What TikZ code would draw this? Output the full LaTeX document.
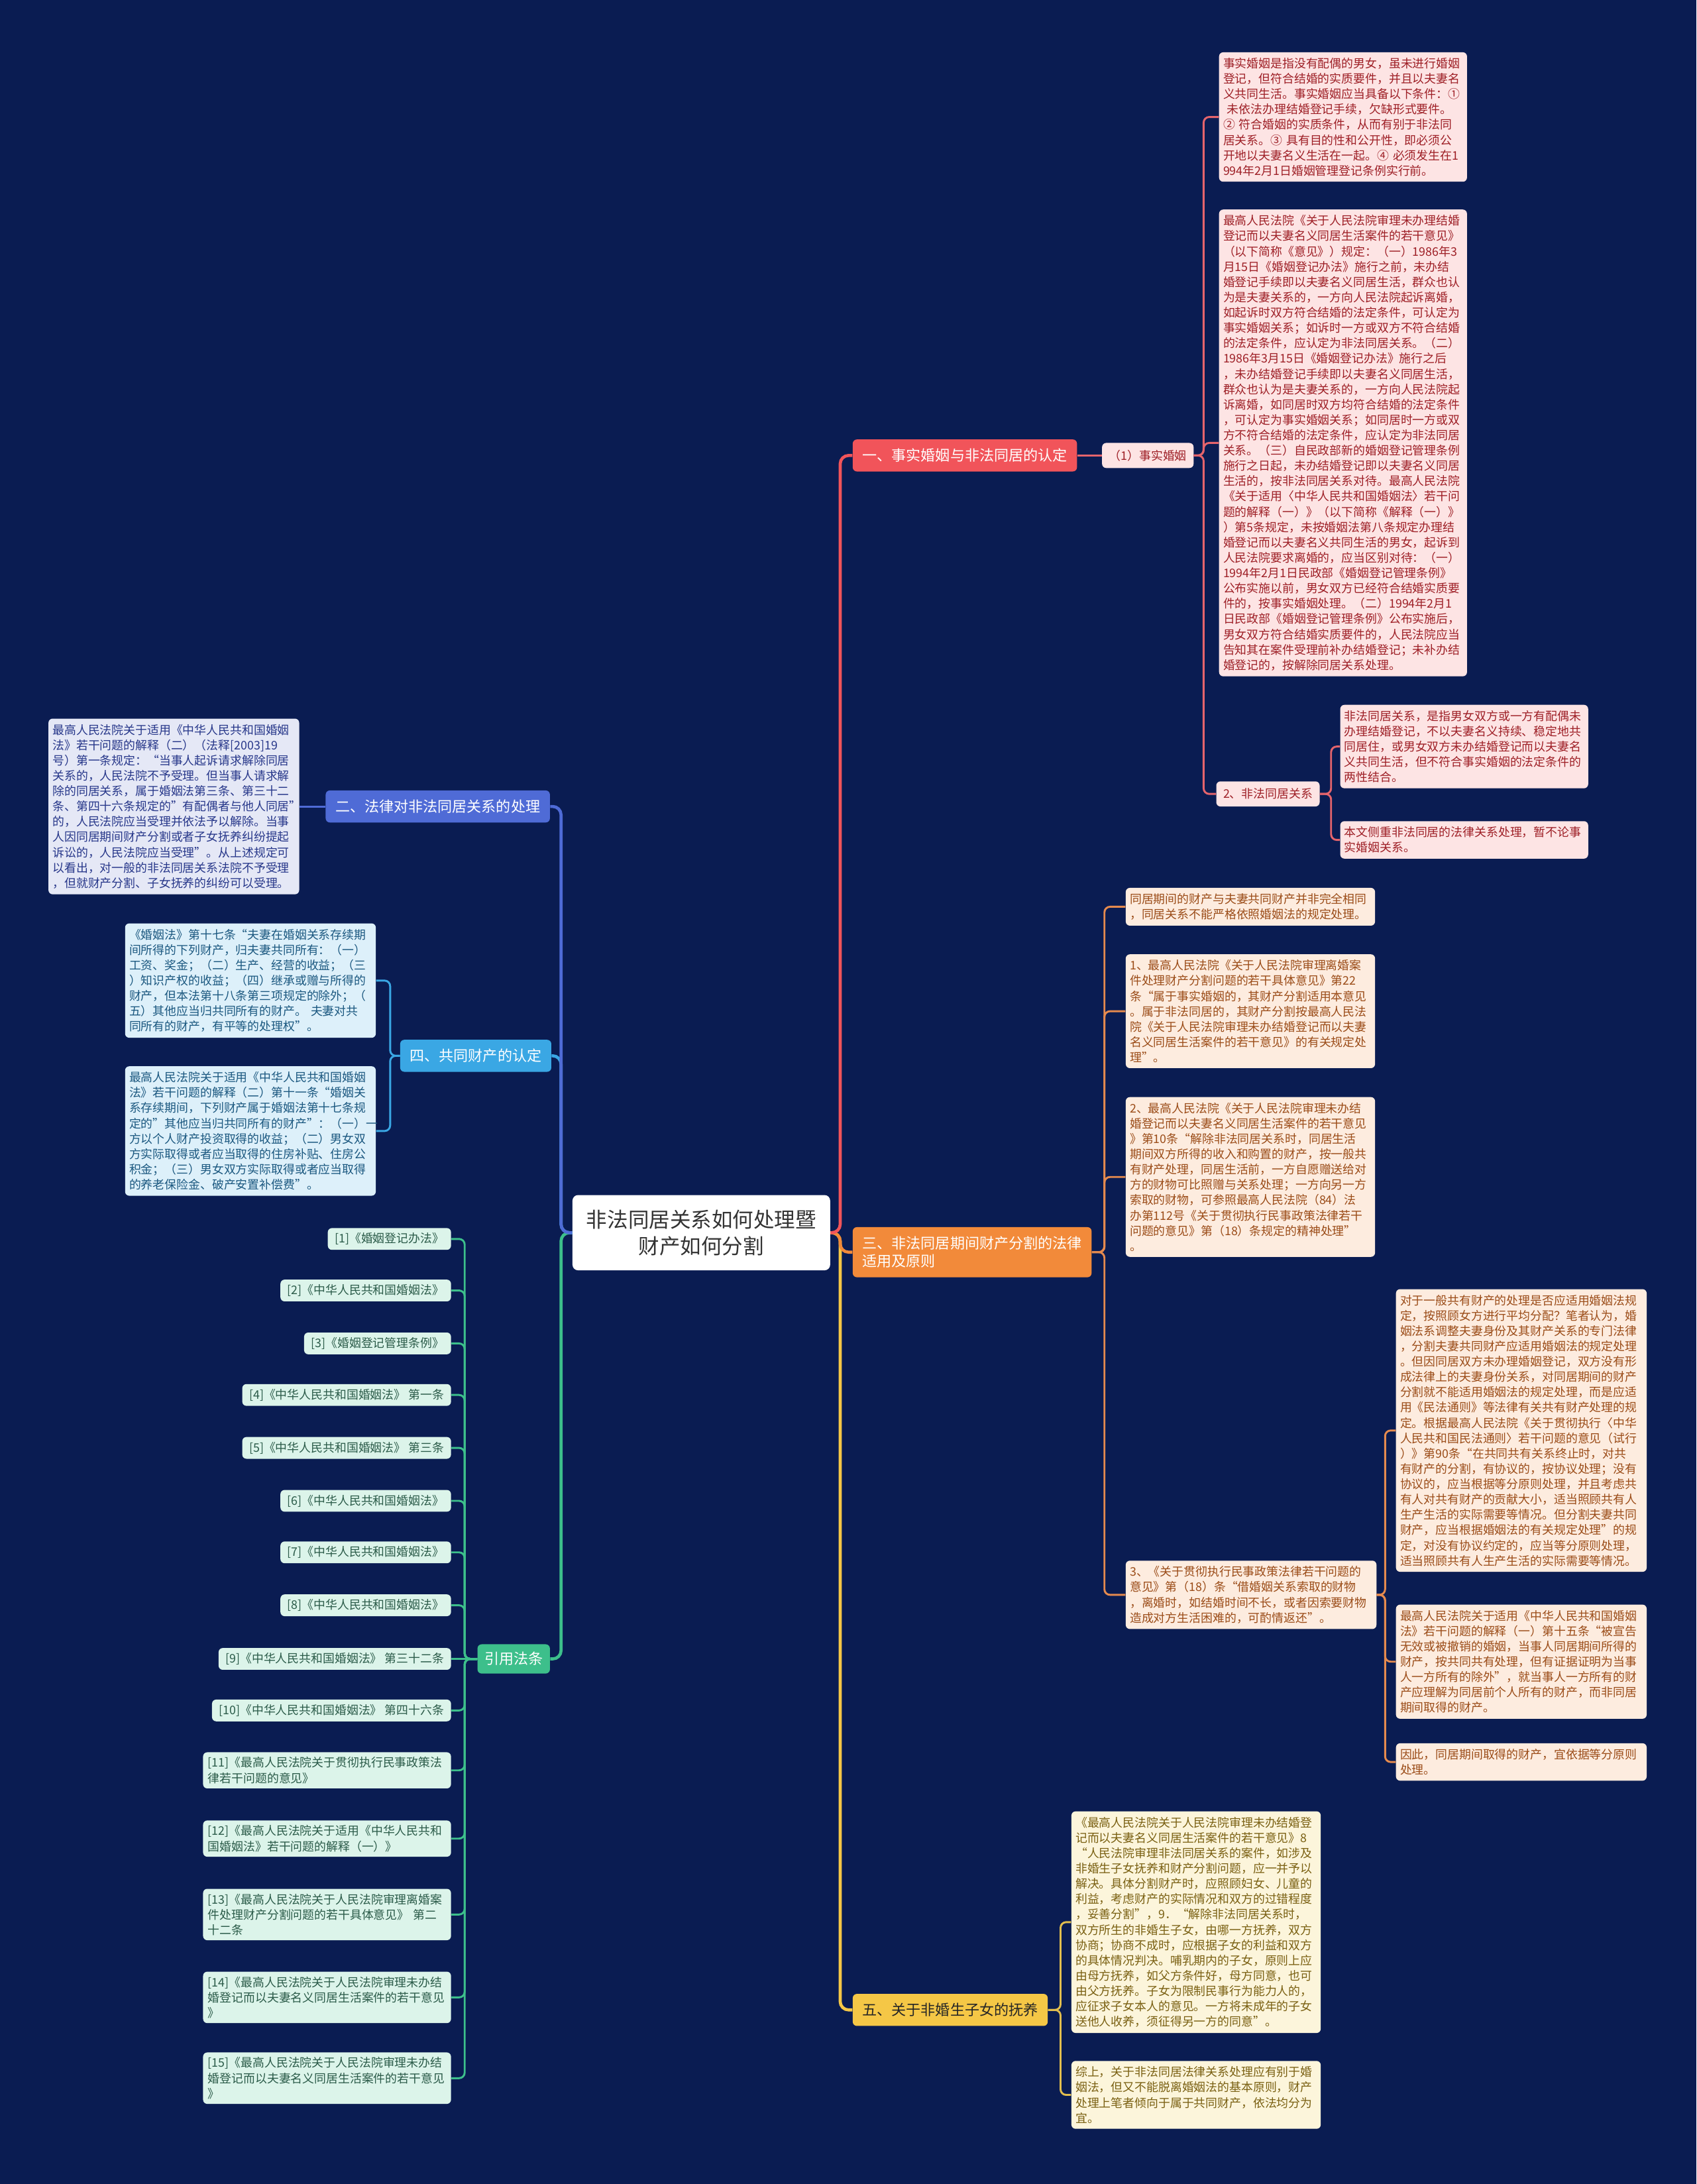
\documentclass[tikz,border=0pt]{standalone}
\usepackage{fontspec}
\setmainfont{Noto Sans CJK SC}
\definecolor{bgnavy}{HTML}{0A1C52}
\definecolor{redhead}{HTML}{F1545A}
\definecolor{redline}{HTML}{E5646C}
\definecolor{pinkfill}{HTML}{FDE4E4}
\definecolor{redtext}{HTML}{9E1F26}
\definecolor{orghead}{HTML}{F28A3A}
\definecolor{orgline}{HTML}{E58A4E}
\definecolor{peachfill}{HTML}{FDECDF}
\definecolor{orgtext}{HTML}{9B4C18}
\definecolor{ylwhead}{HTML}{F5C746}
\definecolor{ylwline}{HTML}{E2BE4E}
\definecolor{creamfill}{HTML}{FCF5DB}
\definecolor{ylwtext}{HTML}{7A6012}
\definecolor{bluhead}{HTML}{4F6BD6}
\definecolor{lavfill}{HTML}{E5E8F6}
\definecolor{blutext}{HTML}{27378A}
\definecolor{cyahead}{HTML}{3AA7E4}
\definecolor{cyafill}{HTML}{DDF0FA}
\definecolor{cyatext}{HTML}{1B5880}
\definecolor{grnhead}{HTML}{3DBF8B}
\definecolor{mintfill}{HTML}{DCF4EA}
\definecolor{grntext}{HTML}{2B5B49}
\begin{document}
\begin{tikzpicture}[x=1pt,y=-1pt,
  blk/.style={rounded corners=3pt,inner xsep=3pt,inner ysep=4pt,align=left,
    font=\fontsize{8.5}{11}\selectfont},
  head/.style={rounded corners=3pt,inner xsep=7pt,inner ysep=3pt,minimum height=23pt,
    text=white,font=\fontsize{10.5}{13}\selectfont},
  sub/.style={rounded corners=3pt,inner xsep=5pt,inner ysep=3pt,minimum height=18pt,
    font=\fontsize{8.5}{11}\selectfont},
  redblk/.style={blk,anchor=west,fill=pinkfill,text=redtext},
  orgblk/.style={blk,anchor=west,fill=peachfill,text=orgtext},
  ylwblk/.style={blk,anchor=west,fill=creamfill,text=ylwtext},
  blublk/.style={blk,anchor=east,fill=lavfill,text=blutext,text width=174pt},
  cyablk/.style={blk,anchor=east,fill=cyafill,text=cyatext,text width=174pt},
  refitem/.style={blk,anchor=east,fill=mintfill,text=grntext,inner xsep=5pt,inner ysep=3.5pt},
  trunk/.style={rounded corners=6pt,line width=2.2pt},
  conn/.style={rounded corners=4pt,line width=1.4pt}]
  \fill[bgnavy] (0,0) rectangle (1218,1568);

  % centre
  \node[fill=white,rounded corners=4pt,minimum width=185pt,minimum height=54pt,align=center,
    text=black!80,font=\fontsize{15}{19}\selectfont] (ctr) at (503.5,885)
    {非法同居关系如何处理暨\\财产如何分割};

  % right side
  \node[head,anchor=west,fill=redhead] (b1) at (612,327) {一、事实婚姻与非法同居的认定};
  \node[sub,anchor=west,fill=pinkfill,text=redtext] (s1) at (791,327) {（1）事实婚姻};
  \node[redblk,text width=172pt] (tA) at (875,84) {事实婚姻是指没有配偶的男女，虽未进行婚姻\\登记，但符合结婚的实质要件，并且以夫妻名\\义共同生活。事实婚姻应当具备以下条件：①\\\ 未依法办理结婚登记手续，欠缺形式要件。\\② 符合婚姻的实质条件，从而有别于非法同\\居关系。③ 具有目的性和公开性，即必须公\\开地以夫妻名义生活在一起。④ 必须发生在1\\994年2月1日婚姻管理登记条例实行前。};
  \node[redblk,text width=172pt] (tB) at (875,318) {最高人民法院《关于人民法院审理未办理结婚\\登记而以夫妻名义同居生活案件的若干意见》\\（以下简称《意见》）规定：（一）1986年3\\月15日《婚姻登记办法》施行之前，未办结\\婚登记手续即以夫妻名义同居生活，群众也认\\为是夫妻关系的，一方向人民法院起诉离婚，\\如起诉时双方符合结婚的法定条件，可认定为\\事实婚姻关系；如诉时一方或双方不符合结婚\\的法定条件，应认定为非法同居关系。（二）\\1986年3月15日《婚姻登记办法》施行之后\\，未办结婚登记手续即以夫妻名义同居生活，\\群众也认为是夫妻关系的，一方向人民法院起\\诉离婚，如同居时双方均符合结婚的法定条件\\，可认定为事实婚姻关系；如同居时一方或双\\方不符合结婚的法定条件，应认定为非法同居\\关系。（三）自民政部新的婚姻登记管理条例\\施行之日起，未办结婚登记即以夫妻名义同居\\生活的，按非法同居关系对待。最高人民法院\\《关于适用〈中华人民共和国婚姻法〉若干问\\题的解释（一）》（以下简称《解释（一）》\\）第5条规定，未按婚姻法第八条规定办理结\\婚登记而以夫妻名义共同生活的男女，起诉到\\人民法院要求离婚的，应当区别对待：（一）\\1994年2月1日民政部《婚姻登记管理条例》\\公布实施以前，男女双方已经符合结婚实质要\\件的，按事实婚姻处理。（二）1994年2月1\\日民政部《婚姻登记管理条例》公布实施后，\\男女双方符合结婚实质要件的，人民法院应当\\告知其在案件受理前补办结婚登记；未补办结\\婚登记的，按解除同居关系处理。};
  \node[sub,anchor=west,fill=pinkfill,text=redtext] (s2) at (873,570) {2、非法同居关系};
  \node[redblk,text width=172pt] (tC) at (962,536) {非法同居关系，是指男女双方或一方有配偶未\\办理结婚登记，不以夫妻名义持续、稳定地共\\同居住，或男女双方未办结婚登记而以夫妻名\\义共同生活，但不符合事实婚姻的法定条件的\\两性结合。};
  \node[redblk,text width=172pt] (tD) at (962,603) {本文侧重非法同居的法律关系处理，暂不论事\\实婚姻关系。};

  \node[head,anchor=west,fill=orghead,align=left,minimum height=36pt] (b3) at (612,899) {三、非法同居期间财产分割的法律\\适用及原则};
  \node[orgblk,text width=173pt] (tE) at (808,651) {同居期间的财产与夫妻共同财产并非完全相同\\，同居关系不能严格依照婚姻法的规定处理。};
  \node[orgblk,text width=173pt] (tF) at (808,726) {1、最高人民法院《关于人民法院审理离婚案\\件处理财产分割问题的若干具体意见》第22\\条“属于事实婚姻的，其财产分割适用本意见\\。属于非法同居的，其财产分割按最高人民法\\院《关于人民法院审理未办结婚登记而以夫妻\\名义同居生活案件的若干意见》的有关规定处\\理”。};
  \node[orgblk,text width=173pt] (tG) at (808,845) {2、最高人民法院《关于人民法院审理未办结\\婚登记而以夫妻名义同居生活案件的若干意见\\》第10条“解除非法同居关系时，同居生活\\期间双方所得的收入和购置的财产，按一般共\\有财产处理，同居生活前，一方自愿赠送给对\\方的财物可比照赠与关系处理；一方向另一方\\索取的财物，可参照最高人民法院（84）法\\办第112号《关于贯彻执行民事政策法律若干\\问题的意见》第（18）条规定的精神处理”\\。};
  \node[orgblk,text width=174pt] (tH) at (808,1145) {3、《关于贯彻执行民事政策法律若干问题的\\意见》第（18）条“借婚姻关系索取的财物\\，离婚时，如结婚时间不长，或者因索要财物\\造成对方生活困难的，可酌情返还”。};
  \node[orgblk,text width=174pt] (tI) at (1002,1027) {对于一般共有财产的处理是否应适用婚姻法规\\定，按照顾女方进行平均分配？笔者认为，婚\\姻法系调整夫妻身份及其财产关系的专门法律\\，分割夫妻共同财产应适用婚姻法的规定处理\\。但因同居双方未办理婚姻登记，双方没有形\\成法律上的夫妻身份关系，对同居期间的财产\\分割就不能适用婚姻法的规定处理，而是应适\\用《民法通则》等法律有关共有财产处理的规\\定。根据最高人民法院《关于贯彻执行〈中华\\人民共和国民法通则〉若干问题的意见（试行\\）》第90条“在共同共有关系终止时，对共\\有财产的分割，有协议的，按协议处理；没有\\协议的，应当根据等分原则处理，并且考虑共\\有人对共有财产的贡献大小，适当照顾共有人\\生产生活的实际需要等情况。但分割夫妻共同\\财产，应当根据婚姻法的有关规定处理”的规\\定，对没有协议约定的，应当等分原则处理，\\适当照顾共有人生产生活的实际需要等情况。};
  \node[orgblk,text width=174pt] (tJ) at (1002,1193) {最高人民法院关于适用《中华人民共和国婚姻\\法》若干问题的解释（一）第十五条“被宣告\\无效或被撤销的婚姻，当事人同居期间所得的\\财产，按共同共有处理，但有证据证明为当事\\人一方所有的除外”，就当事人一方所有的财\\产应理解为同居前个人所有的财产，而非同居\\期间取得的财产。};
  \node[orgblk,text width=174pt] (tK) at (1002,1265) {因此，同居期间取得的财产，宜依据等分原则\\处理。};

  \node[head,anchor=west,fill=ylwhead,text=black!85] (b5) at (612,1443) {五、关于非婚生子女的抚养};
  \node[ylwblk,text width=173pt] (tL) at (769,1380) {《最高人民法院关于人民法院审理未办结婚登\\记而以夫妻名义同居生活案件的若干意见》8\\“人民法院审理非法同居关系的案件，如涉及\\非婚生子女抚养和财产分割问题，应一并予以\\解决。具体分割财产时，应照顾妇女、儿童的\\利益，考虑财产的实际情况和双方的过错程度\\，妥善分割”，9．“解除非法同居关系时，\\双方所生的非婚生子女，由哪一方抚养，双方\\协商；协商不成时，应根据子女的利益和双方\\的具体情况判决。哺乳期内的子女，原则上应\\由母方抚养，如父方条件好，母方同意，也可\\由父方抚养。子女为限制民事行为能力人的，\\应征求子女本人的意见。一方将未成年的子女\\送他人收养，须征得另一方的同意”。};
  \node[ylwblk,text width=173pt] (tM) at (769,1504) {综上，关于非法同居法律关系处理应有别于婚\\姻法，但又不能脱离婚姻法的基本原则，财产\\处理上笔者倾向于属于共同财产，依法均分为\\宜。};

  % left side
  \node[head,anchor=east,fill=bluhead] (b2) at (395,579) {二、法律对非法同居关系的处理};
  \node[blublk] (tL1) at (215,579) {最高人民法院关于适用《中华人民共和国婚姻\\法》若干问题的解释（二）（法释[2003]19\\号）第一条规定：“当事人起诉请求解除同居\\关系的，人民法院不予受理。但当事人请求解\\除的同居关系，属于婚姻法第三条、第三十二\\条、第四十六条规定的"有配偶者与他人同居"\\的，人民法院应当受理并依法予以解除。当事\\人因同居期间财产分割或者子女抚养纠纷提起\\诉讼的，人民法院应当受理”。从上述规定可\\以看出，对一般的非法同居关系法院不予受理\\，但就财产分割、子女抚养的纠纷可以受理。};

  \node[head,anchor=east,fill=cyahead] (b4) at (396,758) {四、共同财产的认定};
  \node[cyablk] (tL2) at (270,704) {《婚姻法》第十七条“夫妻在婚姻关系存续期\\间所得的下列财产，归夫妻共同所有：（一）\\工资、奖金；（二）生产、经营的收益；（三\\）知识产权的收益；（四）继承或赠与所得的\\财产，但本法第十八条第三项规定的除外；（\\五）其他应当归共同所有的财产。 夫妻对共\\同所有的财产，有平等的处理权”。};
  \node[cyablk] (tL3) at (270,812) {最高人民法院关于适用《中华人民共和国婚姻\\法》若干问题的解释（二）第十一条“婚姻关\\系存续期间，下列财产属于婚姻法第十七条规\\定的"其他应当归共同所有的财产"：（一）一\\方以个人财产投资取得的收益；（二）男女双\\方实际取得或者应当取得的住房补贴、住房公\\积金；（三）男女双方实际取得或者应当取得\\的养老保险金、破产安置补偿费”。};

  \node[head,anchor=east,fill=grnhead,inner xsep=5pt,minimum height=21pt] (b6) at (395,1191) {引用法条};
  \foreach \i/\y/\t in {1/889.5/{[1]《婚姻登记办法》},2/926.5/{[2]《中华人民共和国婚姻法》},
      3/964.5/{[3]《婚姻登记管理条例》},4/1001.5/{[4]《中华人民共和国婚姻法》 第一条},
      5/1039.5/{[5]《中华人民共和国婚姻法》 第三条},6/1077.5/{[6]《中华人民共和国婚姻法》},
      7/1114.5/{[7]《中华人民共和国婚姻法》},8/1152.5/{[8]《中华人民共和国婚姻法》},
      9/1191/{[9]《中华人民共和国婚姻法》 第三十二条},10/1228/{[10]《中华人民共和国婚姻法》 第四十六条}}
    \node[refitem] (r\i) at (324,\y) {\t};
  \node[refitem,inner xsep=3.5pt,text width=171pt] (r11) at (324,1271) {[11]《最高人民法院关于贯彻执行民事政策法\\律若干问题的意见》};
  \node[refitem,inner xsep=3.5pt,text width=171pt] (r12) at (324,1320) {[12]《最高人民法院关于适用《中华人民共和\\国婚姻法》若干问题的解释（一）》};
  \node[refitem,inner xsep=3.5pt,text width=171pt] (r13) at (324,1374.5) {[13]《最高人民法院关于人民法院审理离婚案\\件处理财产分割问题的若干具体意见》 第二\\十二条};
  \node[refitem,inner xsep=3.5pt,text width=171pt] (r14) at (324,1434) {[14]《最高人民法院关于人民法院审理未办结\\婚登记而以夫妻名义同居生活案件的若干意见\\》};
  \node[refitem,inner xsep=3.5pt,text width=171pt] (r15) at (324,1492) {[15]《最高人民法院关于人民法院审理未办结\\婚登记而以夫妻名义同居生活案件的若干意见\\》};

  % connectors
  \draw[trunk,ylwhead] (ctr.east) -- ++(7,0) |- (b5.west);
  \draw[trunk,orghead] (ctr.east) -- ++(7,0) |- (b3.west);
  \draw[trunk,redhead] (ctr.east) -- ++(7,0) |- (b1.west);
  \draw[trunk,grnhead] (ctr.west) -- ++(-8,0) |- (b6.east);
  \draw[trunk,cyahead] (ctr.west) -- ++(-8,0) |- (b4.east);
  \draw[trunk,bluhead] (ctr.west) -- ++(-8,0) |- (b2.east);

  \draw[conn,redline] (b1.east) -- (s1.west);
  \foreach \c in {tA,tB,s2} \draw[conn,redline] (s1.east) -- ++(7,0) |- (\c.west);
  \foreach \c in {tC,tD} \draw[conn,redline] (s2.east) -- ++(8,0) |- (\c.west);
  \foreach \c in {tE,tF,tG,tH} \draw[conn,orgline] (b3.east) -- ++(9,0) |- (\c.west);
  \foreach \c in {tI,tJ,tK} \draw[conn,orgline] (tH.east) -- ++(6,0) |- (\c.west);
  \foreach \c in {tL,tM} \draw[conn,ylwline] (b5.east) -- ++(9,0) |- (\c.west);

  \draw[conn,bluhead] (b2.west) -- (tL1.east);
  \foreach \c in {tL2,tL3} \draw[conn,cyahead] (b4.west) -- ++(-7,0) |- (\c.east);
  \draw[conn,grnhead] (b6.west) -- (r9.east);
  \foreach \i in {1,...,8,10,11,...,15} \draw[conn,grnhead] (b6.west) -- ++(-9,0) |- (r\i.east);
\end{tikzpicture}
\end{document}
